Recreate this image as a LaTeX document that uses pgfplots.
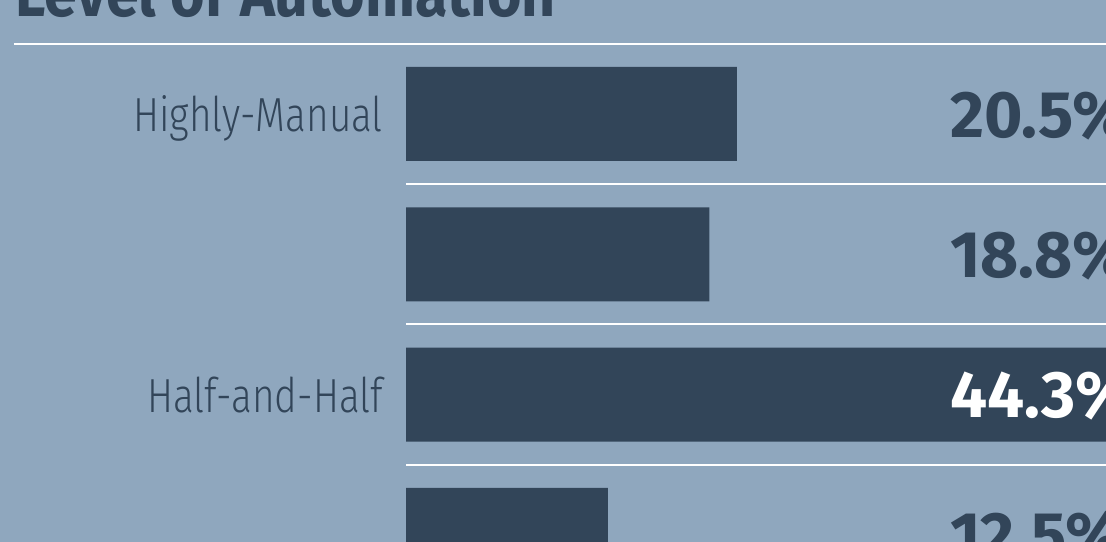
\documentclass[border=0pt]{standalone}
\usepackage{fontspec}
\usepackage{pgfplots}
\pgfplotsset{compat=1.18}
\setmainfont{Fira Sans}
\newfontfamily\condfont[FakeStretch=0.90]{Fira Sans}
\newfontfamily\lightfont[FakeStretch=0.81]{Fira Sans Light}
\definecolor{bg}{HTML}{8FA7BE}
\definecolor{barc}{HTML}{324559}
\begin{document}
\begin{tikzpicture}[x=1bp,y=1bp]
\clip (0,0) rectangle (1106,542);
\fill[bg] (0,0) rectangle (1106,542);
\node[anchor=base west, inner sep=0pt, text=barc, font=\condfont\bfseries\fontsize{66}{66}\selectfont] at (15,525) {Level of Automation};
\begin{axis}[
  at={(406bp,568.3bp)}, anchor=north west,
  scale only axis, width=807bp, height=701.5bp,
  xmin=0, xmax=50, ymin=-1, ymax=4, y dir=reverse,
  axis line style={draw=none}, tick style={draw=none},
  major tick length=0pt,
  xtick=\empty, ytick={0,1,2,3},
  yticklabels={Highly-Manual,,Half-and-Half,},
  yticklabel style={font=\lightfont\fontsize{48}{48}\selectfont, text=barc, anchor=base east, inner sep=0pt, xshift=-23bp, yshift=-18bp},
  xbar, bar width=94bp, clip=false,
]
\addplot[fill=barc, draw=none, bar shift=0pt] coordinates {(20.5,0) (18.8,1) (44.3,2) (12.5,3)};
\draw[white, line width=2bp] (axis cs:-24.3,-0.5) -- (axis cs:50,-0.5);
\draw[white, line width=2bp] (axis cs:0,0.5) -- (axis cs:50,0.5);
\draw[white, line width=2bp] (axis cs:0,1.5) -- (axis cs:50,1.5);
\draw[white, line width=2bp] (axis cs:0,2.5) -- (axis cs:50,2.5);
\begin{scope}[every node/.style={anchor=base west, inner sep=0pt, font=\bfseries\fontsize{66}{66}\selectfont}]
\node[text=barc] at (axis cs:33.7,0.165) {20.5\%};
\node[text=barc] at (axis cs:33.7,1.165) {18.8\%};
\node[text=white] at (axis cs:33.7,2.165) {44.3\%};
\node[text=barc] at (axis cs:33.7,3.165) {12.5\%};
\end{scope}
\end{axis}
\end{tikzpicture}
\end{document}
